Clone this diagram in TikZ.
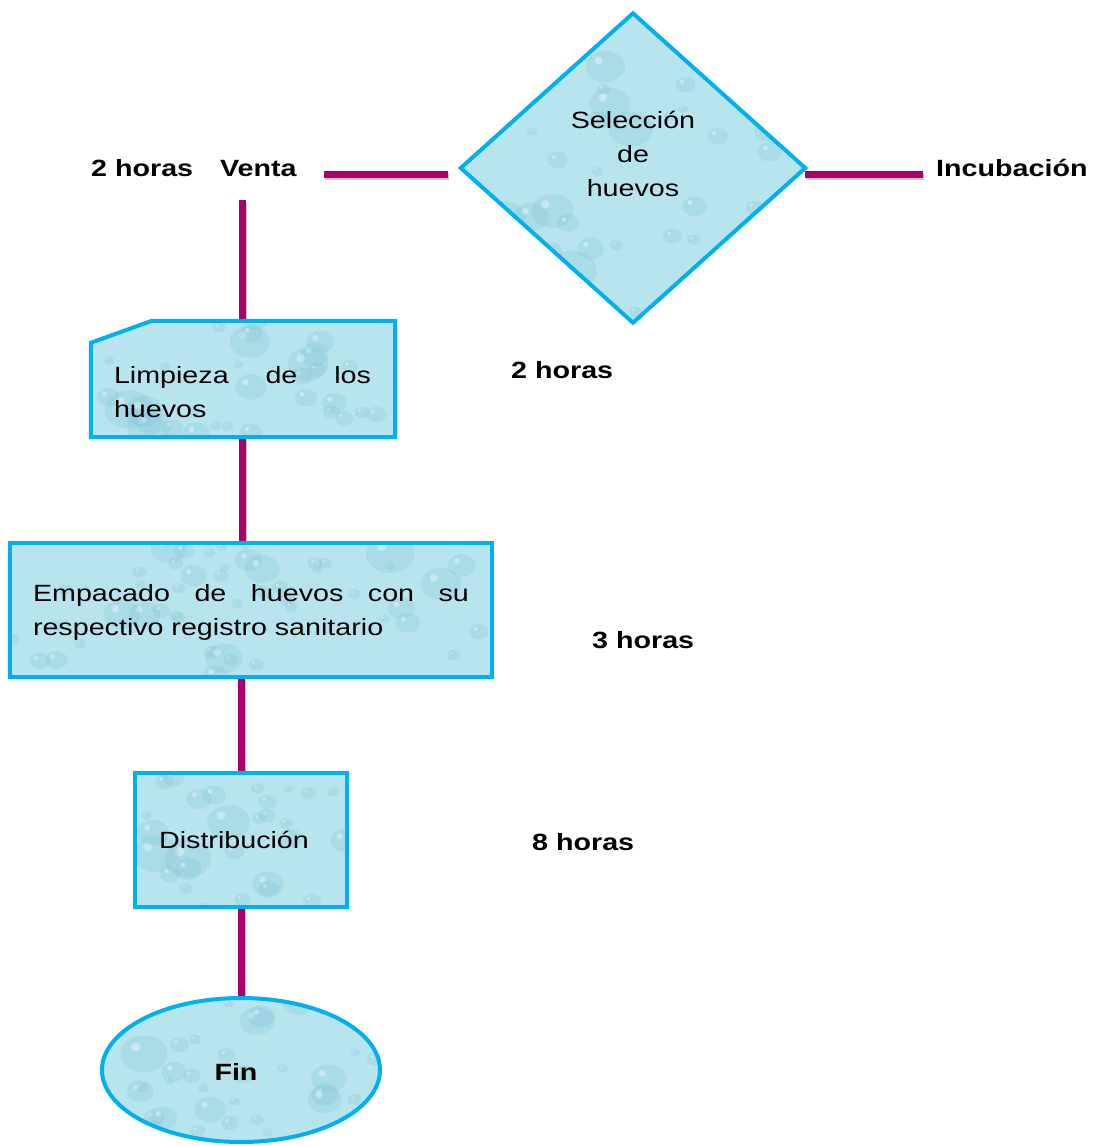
\documentclass[tikz,border=0pt]{standalone}
\usepackage{fontspec}
\setmainfont{Liberation Sans}[FakeStretch=1.22]
\usetikzlibrary{shapes.geometric}
\definecolor{bord}{RGB}{0,176,240}
\definecolor{wbase}{RGB}{184,228,238}
\definecolor{wdrop}{RGB}{110,186,208}
\definecolor{mag}{RGB}{168,0,110}
\tikzset{
  conn/.style={draw=mag, line width=7pt},
  connshadow/.style={draw=black, opacity=.22, line width=7pt, transform canvas={shift={(1pt,-2.5pt)}}},
  boxline/.style={draw=bord, line width=4pt, line join=miter},
  lbl/.style={font=\fontsize{23.5}{34}\selectfont\bfseries, inner sep=0pt},
  txt/.style={font=\fontsize{23.5}{34}\selectfont, inner sep=0pt},
  ghost/.style={inner sep=0pt, draw=none},
}
\newcommand\drops[5]{%
  \foreach \i in {1,...,#5}{%
    \pgfmathsetmacro\cx{#1+rnd*#3}%
    \pgfmathsetmacro\cy{#2+rnd*#4}%
    \pgfmathsetmacro\rr{5+rnd*rnd*22}%
    \fill[wdrop,opacity=.18] (\cx,\cy) ellipse[x radius=\rr, y radius=0.8*\rr];
    \fill[white,opacity=.35] (\cx-0.35*\rr,\cy-0.3*\rr) circle[radius=0.2*\rr];
  }}
\newcommand\connect[2]{%
  \draw[connshadow] #1 -- #2;
  \draw[conn] #1 -- #2;}
\begin{document}
\begin{tikzpicture}[x=1pt,y=-1pt]
\useasboundingbox (0,0) rectangle (1096,1146);
\pgfmathsetseed{7}
% ---- shape anchors
\node[ghost, diamond, minimum width=344pt, minimum height=309pt] (d) at (633,168) {};
\node[ghost, minimum width=304pt, minimum height=116pt] (l) at (243,379) {};
\node[ghost, minimum width=482pt, minimum height=134pt] (e) at (251,610) {};
\node[ghost, minimum width=212pt, minimum height=134pt] (di) at (241,840) {};
\node[ghost, ellipse, minimum width=278pt, minimum height=144pt] (f) at (241,1070) {};
% ---- connectors
\coordinate (a1) at (324,174);
\coordinate (a2) at (448,174);
\coordinate (b2) at (923,174);
\coordinate (vt) at (242,200);
\connect{(a1)}{(a2)}
\connect{(d.east |- b2)}{(b2)}
\connect{(vt)}{(vt |- l.north)}
\connect{(l.south -| vt)}{(vt |- e.north)}
\connect{(e.south -| di.north)}{(di.north)}
\connect{(di.south)}{(f.north)}
% ---- diamond
\begin{scope}
  \clip (d.north) -- (d.east) -- (d.south) -- (d.west) -- cycle;
  \fill[wbase] (461,13) rectangle (805,322);
  \drops{461}{13}{344}{309}{60}
\end{scope}
\draw[boxline] (d.north) -- (d.east) -- (d.south) -- (d.west) -- cycle;
% ---- limpieza (chamfered)
\begin{scope}
  \clip ([yshift=-22pt]l.north west) -- ([xshift=61pt]l.north west) -- (l.north east) -- (l.south east) -- (l.south west) -- cycle;
  \fill[wbase] (91,321) rectangle (395,437);
  \drops{91}{321}{304}{116}{32}
\end{scope}
\draw[boxline] ([yshift=-22pt]l.north west) -- ([xshift=61pt]l.north west) -- (l.north east) -- (l.south east) -- (l.south west) -- cycle;
% ---- empacado
\begin{scope}
  \clip (e.north west) rectangle (e.south east);
  \fill[wbase] (e.north west) rectangle (e.south east);
  \drops{10}{543}{482}{134}{50}
\end{scope}
\draw[boxline] (e.north west) rectangle (e.south east);
% ---- distribucion
\begin{scope}
  \clip (di.north west) rectangle (di.south east);
  \fill[wbase] (di.north west) rectangle (di.south east);
  \drops{135}{773}{212}{134}{28}
\end{scope}
\draw[boxline] (di.north west) rectangle (di.south east);
% ---- fin
\begin{scope}
  \clip (f.center) ellipse[x radius=139, y radius=72];
  \fill[wbase] (102,998) rectangle (380,1142);
  \drops{102}{998}{278}{144}{36}
\end{scope}
\draw[boxline] (f.center) ellipse[x radius=139, y radius=72];
% ---- texts
\node[txt, align=center] (dt) at (633,154) {Selección\\de\\huevos};
\node[txt, text width=257pt, align=left] (lt) at (242.5,392) {\makebox[257pt][s]{Limpieza\hfill de\hfill los}\\huevos};
\node[txt, text width=436pt, align=left] (et) at (251,612.5) {\makebox[436pt][s]{Empacado\hfill de\hfill huevos\hfill con\hfill su}\\respectivo registro sanitario};
\node[txt] (dit) at (234,840) {Distribución};
\node[lbl] (ft) at (236,1072) {Fin};
\node[lbl, anchor=base west] (venta) at (91,176) {2 horas\hspace{27pt}Venta};
\node[lbl, anchor=base west] (inc) at (936,176) {Incubación};
\node[lbl, anchor=base west] (h1) at (511,378) {2 horas};
\node[lbl, anchor=base west] (h2) at (592,648) {3 horas};
\node[lbl, anchor=base west] (h3) at (532,850) {8 horas};
\end{tikzpicture}
\end{document}
